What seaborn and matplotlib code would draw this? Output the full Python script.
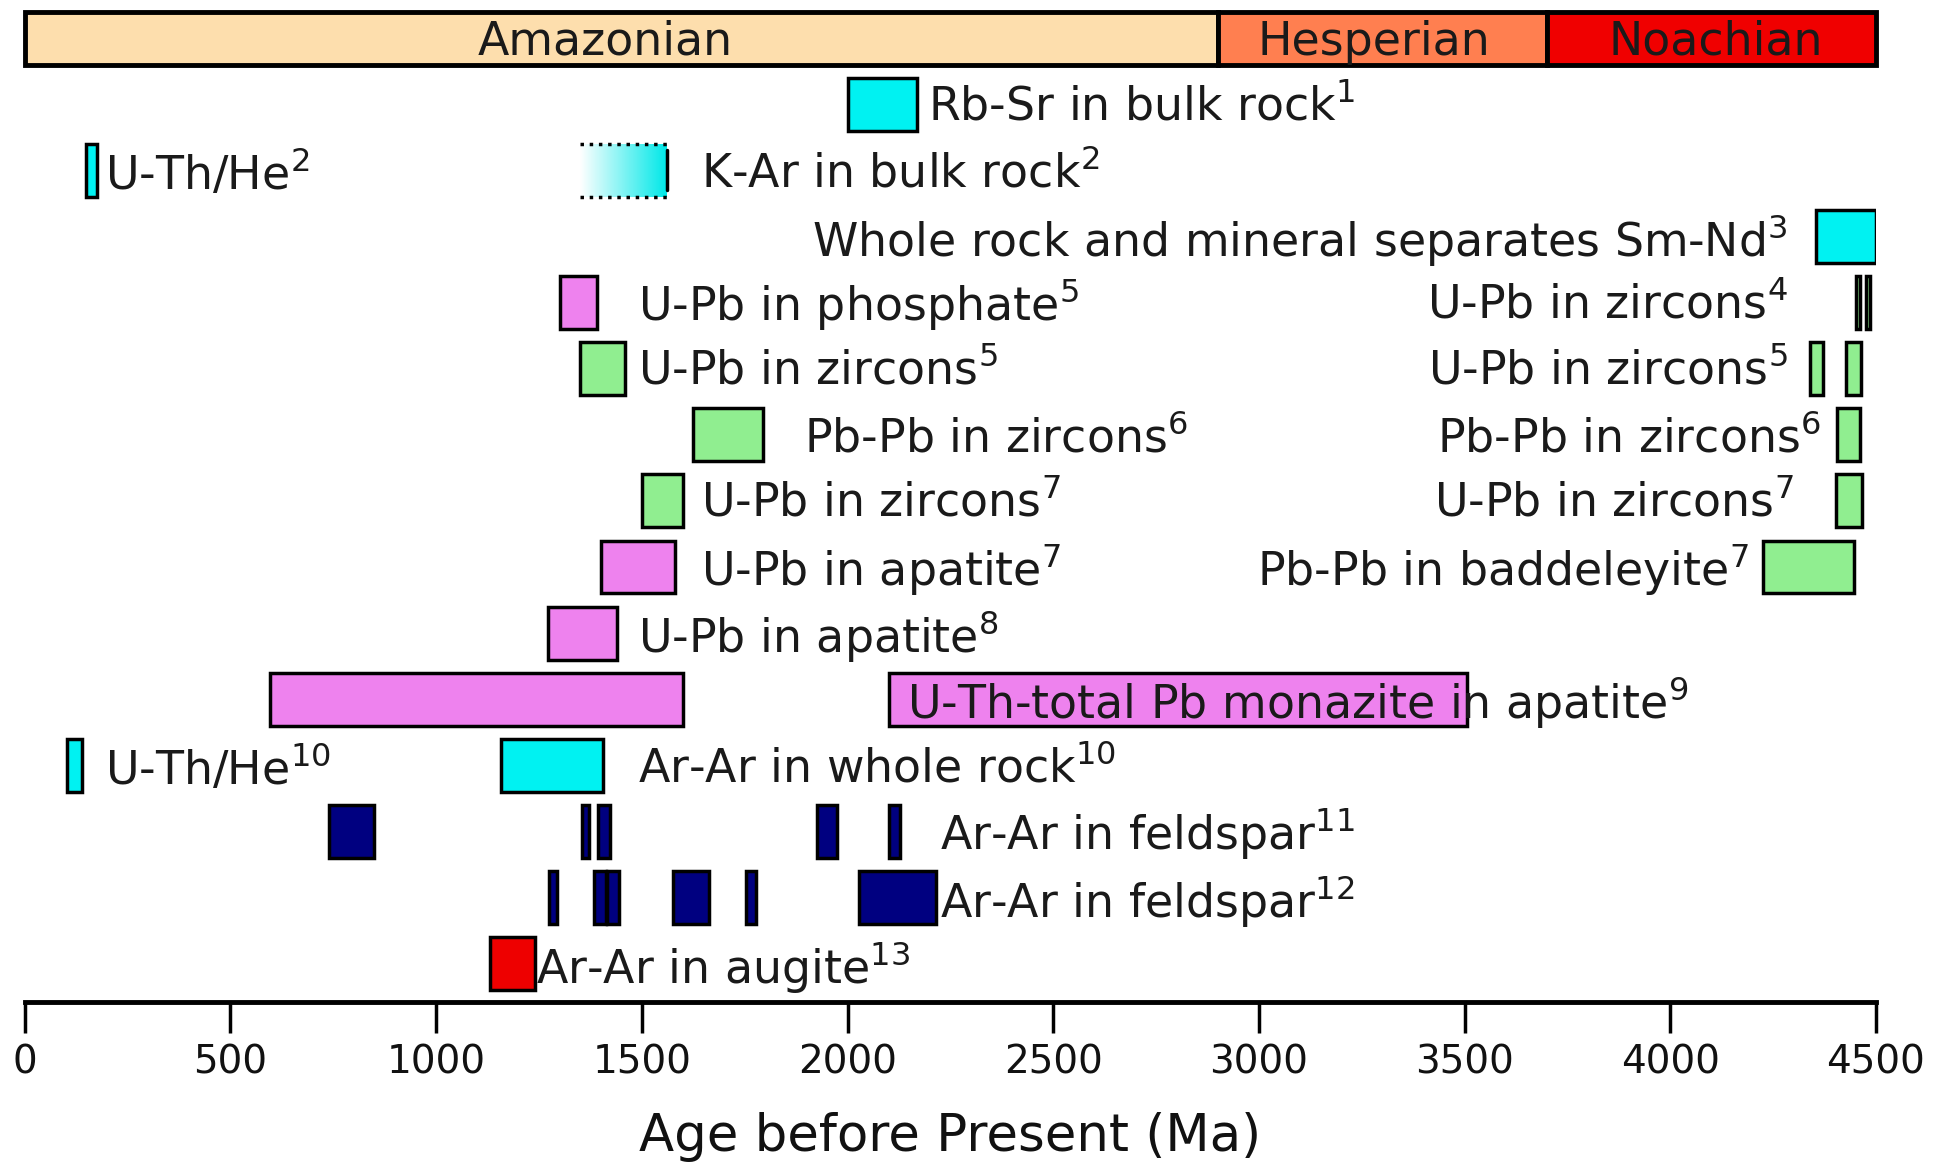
import numpy as np
import matplotlib
matplotlib.use("Agg")
import matplotlib.pyplot as plt
import seaborn as sns
from matplotlib.colors import LinearSegmentedColormap

# ---------------- data ----------------
period_names = ["Amazonian", "Hesperian", "Noachian"]
period_starts = [0, 2900, 3700]
period_ends = [2900, 3700, 4500]
period_label_x = [1410, 3280, 4110]
period_colors = ["#FDDEAD", "#FF7F50", "#F00000"]

# age-range bars: row index (1 = top), start, end (Ma), kind
bar_rows = [1, 2, 3, 4, 4, 4, 5, 5, 5, 6, 6, 7, 7, 8, 8, 9, 10, 10, 11, 11,
            12, 12, 12, 12, 12, 13, 13, 13, 13, 13, 13, 14]
bar_starts = [2000, 150, 4355, 1300, 4451, 4476, 1350, 4340, 4428, 1625, 4405,
              1500, 4402, 1400, 4225, 1272, 595, 2100, 103, 1158,
              740, 1355, 1393, 1927, 2102, 1275, 1384, 1416, 1575, 1752, 2027, 1130]
bar_ends = [2170, 175, 4500, 1390, 4461, 4486, 1460, 4370, 4463, 1795, 4460,
            1600, 4465, 1580, 4447, 1440, 1600, 3505, 140, 1405,
            850, 1372, 1422, 1975, 2128, 1294, 1413, 1444, 1663, 1778, 2215, 1240]
bar_kinds = ["cyan", "cyan", "cyan", "violet", "green", "green", "green", "green", "green",
             "green", "green", "green", "green", "violet", "green", "violet", "violet", "violet",
             "cyan", "cyan", "navy", "navy", "navy", "navy", "navy", "navy", "navy", "navy",
             "navy", "navy", "navy", "red"]
kind_colors = {"cyan": "#00F2F2", "violet": "#EE82EE", "green": "#90EE90",
               "navy": "#000080", "red": "#EE0000"}

# K-Ar in bulk rock (gradient range)
kar_row = 2
kar_start, kar_end = 1350, 1560

# labels: text, x (Ma), row, alignment
label_texts = [r"Rb-Sr in bulk rock$^{1}$", r"U-Th/He$^{2}$", r"K-Ar in bulk rock$^{2}$",
               r"Whole rock and mineral separates Sm-Nd$^{3}$",
               r"U-Pb in phosphate$^{5}$", r"U-Pb in zircons$^{4}$",
               r"U-Pb in zircons$^{5}$", r"U-Pb in zircons$^{5}$",
               r"Pb-Pb in zircons$^{6}$", r"Pb-Pb in zircons$^{6}$",
               r"U-Pb in zircons$^{7}$", r"U-Pb in zircons$^{7}$",
               r"U-Pb in apatite$^{7}$", r"Pb-Pb in baddeleyite$^{7}$",
               r"U-Pb in apatite$^{8}$", r"U-Th-total Pb monazite in apatite$^{9}$",
               r"U-Th/He$^{10}$", r"Ar-Ar in whole rock$^{10}$",
               r"Ar-Ar in feldspar$^{11}$", r"Ar-Ar in feldspar$^{12}$",
               r"Ar-Ar in augite$^{13}$"]
label_x = [2195, 195, 1645, 4285, 1490, 4285, 1490, 4285, 1895, 4365, 1645, 4300,
           1645, 4190, 1490, 2145, 195, 1490, 2225, 2225, 1243]
label_rows = [1, 2, 2, 3, 4, 4, 5, 5, 6, 6, 7, 7, 8, 8, 9, 10, 11, 11, 12, 13, 14]
label_ha = ["left", "left", "left", "right", "left", "right", "left", "right", "left", "right",
            "left", "right", "left", "right", "left", "left", "left", "left", "left", "left", "left"]

x_ticks = [0, 500, 1000, 1500, 2000, 2500, 3000, 3500, 4000, 4500]
x_label = "Age before Present (Ma)"

# ---------------- plot ----------------
sns.set_theme(style="white")
plt.rcParams["font.family"] = ["DejaVu Sans"]
plt.rcParams["mathtext.default"] = "regular"
plt.rcParams["text.color"] = "#111111"
plt.rcParams["axes.labelcolor"] = "#111111"
plt.rcParams["xtick.color"] = "#111111"

fig = plt.figure(figsize=(19.35, 11.67), dpi=100)
ax = fig.add_axes([0.0128, 0.1414, 0.9567, 0.8475])

H = 0.8
TXT = 33
# periods
for name, s, e, c, lx in zip(period_names, period_starts, period_ends, period_colors,
                             period_label_x):
    ax.barh(0, e - s, left=s, height=H, color=c, edgecolor="black", linewidth=3.5,
            clip_on=False, zorder=3)
    ax.text(lx, 0.06, name, ha="center", va="center", fontsize=TXT, color="#1a1a1a",
            zorder=4)

# range bars
for r, s, e, k in zip(bar_rows, bar_starts, bar_ends, bar_kinds):
    ax.barh(r, e - s, left=s, height=H, color=kind_colors[k], edgecolor="black",
            linewidth=2.5, zorder=3)

# K-Ar gradient bar
cmap = LinearSegmentedColormap.from_list("kar", ["#FFFFFF", "#00E8E8"])
grad = np.linspace(0, 1, 256).reshape(1, -1)
ax.imshow(grad, cmap=cmap, aspect="auto",
          extent=(kar_start, kar_end, kar_row + H / 2, kar_row - H / 2), zorder=2)
ax.plot([kar_start, kar_end], [kar_row - H / 2] * 2, ls=":", color="black", lw=2.5, zorder=3)
ax.plot([kar_start, kar_end], [kar_row + H / 2] * 2, ls=":", color="black", lw=2.5, zorder=3)
ax.plot([kar_end, kar_end], [kar_row - H / 2 + 0.1, kar_row + H / 2 - 0.1], color="black",
        lw=2.5, zorder=3)

# labels
for t, x, r, ha in zip(label_texts, label_x, label_rows, label_ha):
    ax.text(x, r + 0.05, t, ha=ha, va="center", fontsize=TXT, color="#1a1a1a", zorder=5)

ax.set_xlim(0, 4500)
ax.set_ylim(14.58, -0.38)
ax.set_yticks([])
ax.set_xticks(x_ticks)
ax.set_xticklabels([str(v) for v in x_ticks], fontsize=28)
ax.tick_params(axis="x", direction="out", length=22, width=2.5, color="black",
               pad=8, bottom=True)
ax.set_xlabel(x_label, fontsize=37, labelpad=22)
for sp in ["top", "left", "right"]:
    ax.spines[sp].set_visible(False)
ax.spines["bottom"].set_linewidth(3.5)
ax.spines["bottom"].set_color("black")
ax.set_facecolor("white")

fig.savefig("out.png", dpi=100, facecolor="white")
